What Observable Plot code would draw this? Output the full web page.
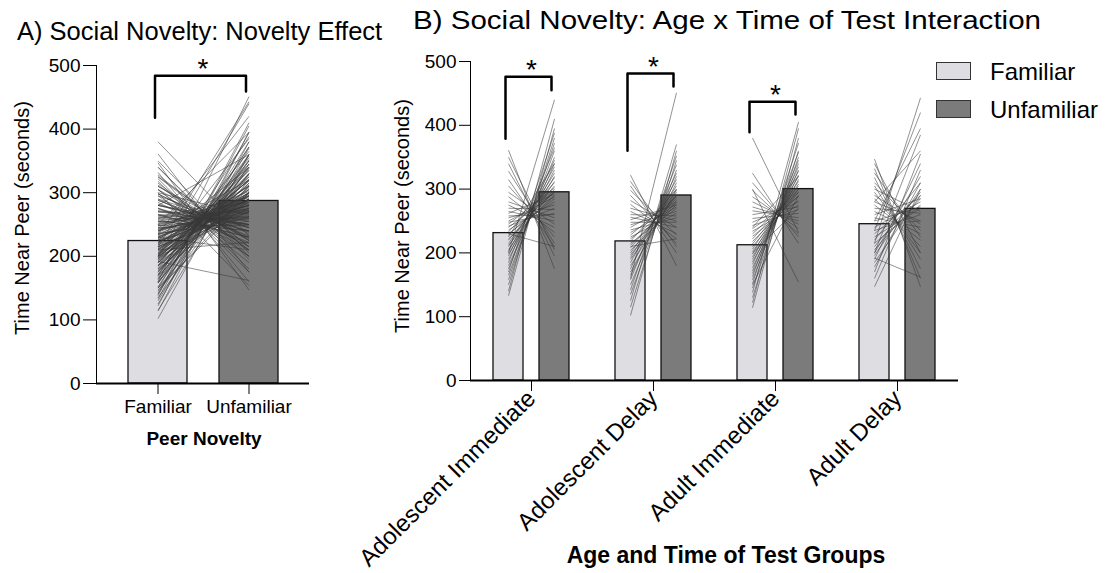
<!DOCTYPE html>
<html><head><meta charset="utf-8">
<script src="https://cdn.jsdelivr.net/npm/d3@7"></script>
<script src="https://cdn.jsdelivr.net/npm/@observablehq/plot@0.6"></script>
<style>
body{margin:0;background:#fff;font-family:"Liberation Sans",Arial,Helvetica,sans-serif;}
#root{position:relative;width:1109px;height:573px;overflow:hidden;background:#fff;}
#root svg{position:absolute;top:0;}
.t{position:absolute;white-space:nowrap;color:#000;line-height:1;transform-origin:0 0;}
.sw{position:absolute;width:35px;height:18px;box-sizing:border-box;border:1.5px solid #333;}
</style></head><body><div id="root"></div>
<script>
const FONT = '"Liberation Sans", Arial, Helvetica, sans-serif';

// ---------- data ----------
const seriesNames = ["Familiar", "Unfamiliar"];
const seriesFill = ["#dedde1", "#7b7b7b"];
const groupNames = ["Adolescent Immediate", "Adolescent Delay", "Adult Immediate", "Adult Delay"];
const yTicks = [0, 100, 200, 300, 400, 500];

// bar heights (mean seconds)
const meanA = [224, 287];
const meanFamiliarB = [231, 218, 212, 245];
const meanUnfamiliarB = [295, 290, 300, 269];

// individual subjects: [familiar, unfamiliar] seconds
const adolescentImmediate = [
  [133, 395], [140, 410], [150, 380], [158, 372], [165, 360], [170, 388], [175, 350], [180, 340],
  [185, 365], [190, 330], [195, 345], [198, 320], [202, 335], [205, 312], [210, 325], [212, 300],
  [215, 318], [220, 305], [222, 290], [225, 340], [228, 296], [230, 285], [233, 310], [236, 280],
  [240, 295], [242, 270], [245, 302], [248, 262], [250, 288], [255, 275], [258, 260], [262, 292],
  [265, 250], [270, 268], [275, 240], [280, 255], [288, 232], [295, 245], [305, 225], [315, 210],
  [328, 215], [340, 195], [350, 205], [361, 175], [200, 440], [230, 210]
];
const adolescentDelay = [
  [102, 360], [115, 345], [125, 370], [135, 330], [142, 352], [150, 320], [158, 338], [165, 310],
  [170, 300], [175, 325], [180, 295], [185, 315], [190, 290], [193, 305], [197, 282], [200, 298],
  [204, 276], [208, 290], [212, 285], [215, 270], [218, 300], [222, 278], [225, 262], [228, 288],
  [232, 272], [236, 255], [240, 280], [244, 265], [248, 248], [252, 275], [256, 240], [260, 258],
  [265, 230], [270, 250], [276, 222], [282, 240], [290, 215], [298, 228], [305, 200], [312, 210],
  [322, 180], [160, 451], [210, 222]
];
const adultImmediate = [
  [114, 380], [122, 395], [130, 360], [138, 405], [145, 350], [152, 372], [158, 340], [163, 358],
  [168, 330], [172, 345], [177, 322], [182, 335], [186, 315], [190, 328], [194, 308], [198, 320],
  [202, 300], [206, 312], [210, 295], [214, 305], [218, 290], [222, 300], [226, 282], [230, 295],
  [234, 275], [238, 288], [243, 268], [248, 280], [254, 262], [260, 272], [266, 255], [272, 250],
  [280, 245], [288, 238], [298, 230], [310, 225], [325, 215], [300, 154], [380, 232], [200, 270],
  [240, 320], [150, 290]
];
const adultDelay = [
  [147, 300], [160, 330], [170, 355], [178, 310], [185, 290], [190, 340], [192, 162], [196, 300],
  [200, 320], [205, 285], [210, 295], [215, 275], [220, 310], [225, 270], [230, 290], [235, 260],
  [240, 280], [245, 250], [250, 272], [255, 240], [260, 285], [265, 230], [270, 262], [275, 220],
  [280, 250], [285, 210], [290, 245], [295, 200], [300, 265], [305, 190], [310, 235], [318, 175],
  [325, 225], [332, 160], [340, 200], [347, 147], [215, 443], [235, 420], [200, 385], [250, 395],
  [280, 360]
];

// significance brackets (seconds): left leg bottom, top, right leg bottom
const bracketA = [418, 484, 459];
const bracketGroupsB = ["Adolescent Immediate", "Adolescent Delay", "Adult Immediate"];
const bracketLeftB = [379, 360, 389];
const bracketTopB = [476, 481, 437];
const bracketRightB = [455, 461, 417];

// ---------- tables ----------
const subjectsByGroup = [adolescentImmediate, adolescentDelay, adultImmediate, adultDelay];
const pairs = groupNames.flatMap((g, i) => subjectsByGroup[i].map(([f, u]) => ({group: g, familiar: f, unfamiliar: u})));
const barsA = seriesNames.map((s, i) => ({series: s, value: meanA[i]}));
const barsB = groupNames.flatMap((g, i) => [
  {group: g, series: "Familiar", value: meanFamiliarB[i]},
  {group: g, series: "Unfamiliar", value: meanUnfamiliarB[i]}
]);
const bracketPtsA = [
  {series: "Familiar", y: bracketA[0]}, {series: "Familiar", y: bracketA[1]},
  {series: "Unfamiliar", y: bracketA[1]}, {series: "Unfamiliar", y: bracketA[2]}
];
const bracketPtsB = bracketGroupsB.flatMap((g, i) => [
  {group: g, series: "Familiar", y: bracketLeftB[i]}, {group: g, series: "Familiar", y: bracketTopB[i]},
  {group: g, series: "Unfamiliar", y: bracketTopB[i]}, {group: g, series: "Unfamiliar", y: bracketRightB[i]}
]);
const starsB = bracketGroupsB.map((g, i) => ({group: g, y: bracketTopB[i]}));

const lineStroke = "#383838";

// ---------- panel A ----------
const plotA = Plot.plot({
  width: 330, height: 460,
  marginLeft: 96, marginRight: 21, marginTop: 65, marginBottom: 77,
  style: {fontFamily: FONT, fontSize: "19px", color: "#000", background: "transparent", overflow: "visible"},
  x: {domain: seriesNames, paddingInner: 0.352, paddingOuter: 0.346, label: null, tickSize: 11, tickPadding: 5},
  y: {domain: [0, 500], ticks: yTicks, tickSize: 13, tickPadding: 3, label: null, line: true},
  color: {domain: seriesNames, range: seriesFill},
  marks: [
    Plot.barY(barsA, {x: "series", y: "value", fill: "series", stroke: "#111", strokeWidth: 1.3}),
    Plot.link(pairs, {x1: () => "Familiar", x2: () => "Unfamiliar", y1: "familiar", y2: "unfamiliar",
      stroke: lineStroke, strokeOpacity: 0.55, strokeWidth: 1}),
    Plot.ruleY([0], {strokeWidth: 1.8}),
    Plot.line(bracketPtsA, {x: "series", y: "y", strokeWidth: 2.5, dx: -3}),
    Plot.text(["*"], {x: () => "Familiar", y: () => bracketA[1], dx: 45, dy: -7, fontSize: 28})
  ]
});

// ---------- panel B ----------
const plotB = Plot.plot({
  width: 729, height: 573,
  marginLeft: 90, marginRight: 151, marginTop: 61, marginBottom: 193,
  style: {fontFamily: FONT, fontSize: "19px", color: "#000", background: "transparent", overflow: "visible"},
  fx: {domain: groupNames, paddingInner: 0, paddingOuter: 0, label: null},
  x: {domain: seriesNames, paddingInner: 0.35, paddingOuter: 0.5, axis: null},
  y: {domain: [0, 500], ticks: yTicks, tickSize: 11, tickPadding: 3, label: null, line: true},
  color: {domain: seriesNames, range: seriesFill},
  marks: [
    Plot.axisFx({anchor: "bottom", tickSize: 11, tickPadding: 3, tickRotate: -45, fontSize: 24, label: null}),
    Plot.barY(barsB, {fx: "group", x: "series", y: "value", fill: "series", stroke: "#111", strokeWidth: 1.3}),
    Plot.link(pairs, {fx: "group", x1: () => "Familiar", x2: () => "Unfamiliar", y1: "familiar", y2: "unfamiliar",
      stroke: lineStroke, strokeOpacity: 0.55, strokeWidth: 1}),
    Plot.ruleY([0], {strokeWidth: 1.8}),
    Plot.line(bracketPtsB, {fx: "group", x: "series", y: "y", z: "group", strokeWidth: 2.5, dx: -3}),
    Plot.text(starsB, {fx: "group", x: () => "Familiar", y: "y", text: () => "*", dx: 23, dy: -7, fontSize: 28})
  ]
});

const root = document.getElementById("root");
plotA.style.left = "0px";
plotB.style.left = "380px";
root.appendChild(plotA);
root.appendChild(plotB);

// ---------- titles, labels, legend ----------
function addText(str, {x, base, size, weight = 400, anchor = "start", rotate = false, fitWidth = null}) {
  const d = document.createElement("div");
  d.className = "t";
  d.textContent = str;
  d.style.fontSize = size + "px";
  d.style.fontWeight = weight;
  root.appendChild(d);
  if (rotate) {
    d.style.transformOrigin = "50% 50%";
    d.style.left = x + "px";
    d.style.top = base + "px";
    d.style.transform = "translate(-50%,-50%) rotate(-90deg)";
  } else {
    d.style.left = x + "px";
    d.style.top = (base - 0.8465 * size) + "px";
    if (anchor === "middle") d.style.transform = "translateX(-50%)";
    if (fitWidth) {
      const w = d.getBoundingClientRect().width;
      d.style.transform = `scaleX(${fitWidth / w})`;
    }
  }
  return d;
}
addText("A) Social Novelty: Novelty Effect", {x: 17, base: 41, size: 25.5});
addText("B) Social Novelty: Age x Time of Test Interaction", {x: 413, base: 29, size: 26.5, fitWidth: 628});
addText("Peer Novelty", {x: 204, base: 445, size: 19, weight: 700, anchor: "middle"});
addText("Age and Time of Test Groups", {x: 726, base: 563, size: 23, weight: 700, anchor: "middle"});
addText("Time Near Peer (seconds)", {x: 22, base: 218, size: 20, rotate: true});
addText("Time Near Peer (seconds)", {x: 402, base: 216, size: 20, rotate: true});

seriesNames.forEach((s, i) => {
  const sw = document.createElement("div");
  sw.className = "sw";
  sw.style.left = "936px";
  sw.style.top = (62 + i * 38) + "px";
  sw.style.background = seriesFill[i];
  root.appendChild(sw);
  addText(s, {x: 990, base: 80 + i * 38, size: 24});
});
</script>
</body></html>
